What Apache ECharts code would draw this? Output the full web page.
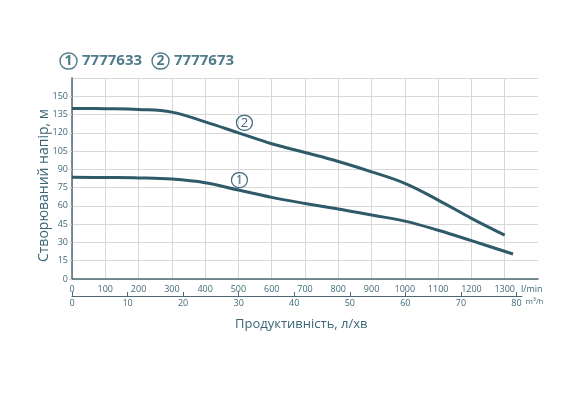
<!DOCTYPE html>
<html><head><meta charset="utf-8">
<script src="https://cdn.jsdelivr.net/npm/echarts@6/dist/echarts.min.js"></script>
<style>html,body{margin:0;padding:0;background:#fff}#c{width:570px;height:395px}</style>
</head><body><div id="c"></div>
<script>
const models = ['7777633', '7777673'];
const flowUpper = [0, 100, 200, 300, 400, 500, 600, 700, 800, 900, 1000, 1100, 1200, 1300];
const headUpper = [140, 139.8, 139.2, 137, 129, 120, 111, 103.8, 96.5, 88, 78.5, 64.8, 49.8, 36];
const flowLower = [0, 100, 200, 300, 400, 500, 600, 700, 800, 900, 1000, 1100, 1200, 1325];
const headLower = [83.5, 83.3, 83, 82, 79, 73, 67, 62, 57.5, 52.5, 47.5, 40, 31.5, 20.5];
const headTicks = [0, 15, 30, 45, 60, 75, 90, 105, 120, 135, 150];
const lminTicks = [0, 100, 200, 300, 400, 500, 600, 700, 800, 900, 1000, 1100, 1200, 1300];
const m3hTicks = [0, 10, 20, 30, 40, 50, 60, 70, 80];
const labelAt = 500;

const lineColor = '#2f5a6a';
const textColor = '#3f6878';
const gridColor = '#d8d8d8';

function seriesData(xs, ys, num, off) {
  return xs.map((x, i) => {
    const d = { value: [x, ys[i]] };
    if (x === labelAt) {
      d.label = {
        show: true, position: 'top', offset: off,
        formatter: '{c|' + num + '}',
        rich: { c: { fontFamily: 'Open Sans', fontSize: 13, color: textColor, width: 14, height: 14, lineHeight: 14, align: 'center', borderColor: textColor, borderWidth: 1.2, borderRadius: 9, padding: [1, 1, 0, 1] } }
      };
    }
    return d;
  });
}

const splitColors = lminTicks.map(() => gridColor).concat(['rgba(0,0,0,0)']);

const chart = echarts.init(document.getElementById('c'));
chart.setOption({
  animation: false,
  backgroundColor: '#fff',
  title: {
    left: 55, top: 47,
    text: '{c|1} {t|' + models[0] + '}  {c|2} {t|' + models[1] + '}',
    textStyle: {
      rich: {
        c: { fontFamily: 'Open Sans', fontSize: 14, fontWeight: 'bold', color: '#4f7b8b', width: 15, height: 15, lineHeight: 15, align: 'center', borderColor: '#4f7b8b', borderWidth: 1.4, borderRadius: 10, padding: [1, 1, 0, 1] },
        t: { fontFamily: 'Open Sans', fontSize: 15, fontWeight: 'bold', color: '#4f7b8b' }
      }
    }
  },
  grid: [
    { left: 72, right: 32, top: 78, bottom: 116 },
    { left: 72, width: 450, top: 200, bottom: 99 }
  ],
  xAxis: [
    {
      type: 'value', gridIndex: 0, min: 0, max: 1400, interval: 100,
      name: 'l/min', nameLocation: 'end', nameGap: 0,
      nameTextStyle: { fontFamily: 'Open Sans', fontSize: 9, color: textColor, align: 'right', verticalAlign: 'top', padding: [6, 0, 0, 0] },
      axisLine: { show: true, lineStyle: { color: '#4d6875', width: 1.5 } },
      axisTick: { show: false },
      axisLabel: { fontFamily: 'Open Sans', fontSize: 9, color: textColor, margin: 6, showMaxLabel: false,
        formatter: v => lminTicks.includes(v) ? String(v) : '' },
      splitLine: { show: true, lineStyle: { color: splitColors, width: 1 } }
    },
    {
      type: 'value', gridIndex: 1, min: 0, max: 81, interval: 10,
      name: 'm³/h', nameLocation: 'end', nameGap: 3,
      nameTextStyle: { fontFamily: 'Open Sans', fontSize: 8, color: textColor, verticalAlign: 'top', padding: [2, 0, 0, 0] },
      axisLine: { show: true, lineStyle: { color: '#4d6875', width: 1 } },
      axisTick: { show: true, inside: true, length: 4, lineStyle: { color: '#4d6875' } },
      axisLabel: { fontFamily: 'Open Sans', fontSize: 9, color: textColor, margin: 3, showMaxLabel: false,
        formatter: v => m3hTicks.includes(v) ? String(v) : '' },
      splitLine: { show: false }
    }
  ],
  yAxis: [
    {
      type: 'value', gridIndex: 0, min: 0, max: 165, interval: 15,
      name: 'Створюваний напір, м', nameLocation: 'middle', nameGap: 21, nameRotate: 90,
      nameMoveOverlap: false,
      nameTextStyle: { fontFamily: 'Open Sans', fontSize: 14, color: '#3a6676', padding: [0, 0, 0, -14] },
      axisLine: { show: true, lineStyle: { color: '#4d6875', width: 1.5 } },
      axisTick: { show: true, length: 3, lineStyle: { color: gridColor } },
      axisLabel: { fontFamily: 'Open Sans', fontSize: 9, color: textColor, margin: 4, showMaxLabel: false,
        formatter: v => headTicks.includes(v) ? String(v) : '' },
      splitLine: { show: true, lineStyle: { color: gridColor, width: 1 } }
    },
    { type: 'value', gridIndex: 1, show: false, min: 0, max: 1 }
  ],
  graphic: [{
    type: 'text', left: 235, top: 318,
    style: { text: 'Продуктивність, л/хв', fontFamily: 'Open Sans', fontSize: 13, fill: '#3a6676' }
  }],
  series: [
    { type: 'line', xAxisIndex: 0, yAxisIndex: 0, smooth: 0.4, symbol: 'circle', symbolSize: 0, showSymbol: true,
      lineStyle: { color: lineColor, width: 3 }, itemStyle: { color: lineColor },
      data: seriesData(flowUpper, headUpper, 2, [6, 2]) },
    { type: 'line', xAxisIndex: 0, yAxisIndex: 0, smooth: 0.4, symbol: 'circle', symbolSize: 0, showSymbol: true,
      lineStyle: { color: lineColor, width: 3 }, itemStyle: { color: lineColor },
      data: seriesData(flowLower, headLower, 1, [1, 2]) }
  ]
});
</script></body></html>
